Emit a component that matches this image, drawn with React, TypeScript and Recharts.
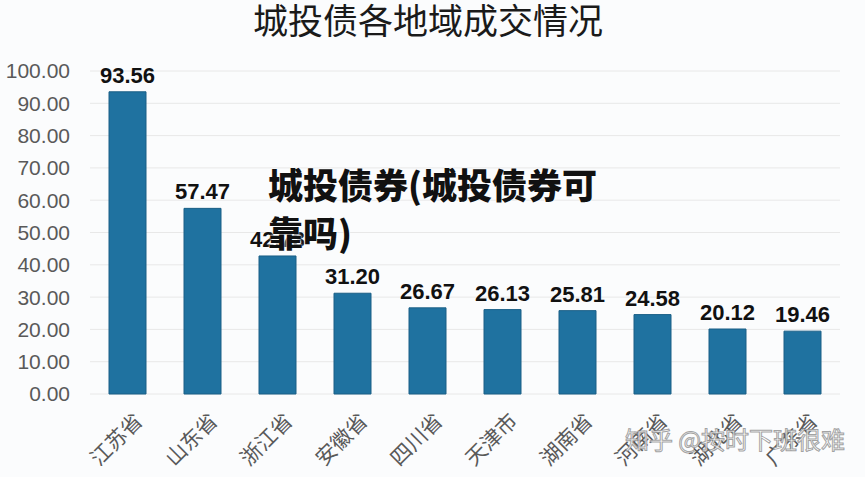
import React from "react";
import { BarChart, Bar, XAxis, YAxis, CartesianGrid, LabelList } from "recharts";

const categories = ["江苏省", "山东省", "浙江省", "安徽省", "四川省", "天津市", "湖南省", "河南省", "湖北省", "广东省"];
const values = [93.56, 57.47, 42.73, 31.2, 26.67, 26.13, 25.81, 24.58, 20.12, 19.46];
const yTicks = [0, 10, 20, 30, 40, 50, 60, 70, 80, 90, 100];

const data = categories.map((name, i) => ({ name, value: values[i] }));

const FONT = "'Liberation Sans', Arial, 'Noto Sans CJK SC', sans-serif";
const CJK = "'Noto Sans CJK SC', sans-serif";

const XTick = (props: any) => {
  const { x, y, payload } = props;
  return (
    <text
      x={x + 10}
      y={y + 14}
      transform={`rotate(-45, ${x + 10}, ${y + 14})`}
      textAnchor="end"
      dominantBaseline="central"
      fontSize={21}
      fill="#595959"
      fontFamily={CJK}
    >
      {payload.value}
    </text>
  );
};

export default function App() {
  return (
    <div style={{ position: "absolute", left: 0, top: 0, width: 865, height: 477, background: "#fbfcfd", overflow: "hidden" }}>
      <svg style={{ position: "absolute", left: 0, top: 0 }} width={865} height={477}>
        <text
          x={428}
          y={34}
          textAnchor="middle"
          fontFamily={CJK}
          fontSize={35}
          fill="#1a1a1a"
        >
          城投债各地域成交情况
        </text>
      </svg>
      <BarChart
        width={865}
        height={477}
        data={data}
        margin={{ top: 71, right: 25, bottom: 0, left: 0 }}
      >
        <CartesianGrid horizontal vertical={false} stroke="#e8e8e8" />
        <XAxis
          dataKey="name"
          axisLine={false}
          tickLine={false}
          tick={<XTick />}
          interval={0}
          height={83}
        />
        <YAxis
          domain={[0, 100]}
          ticks={yTicks}
          interval={0}
          axisLine={false}
          tickLine={false}
          tickSize={0}
          tickMargin={20}
          width={90}
          tickFormatter={(v: number) => v.toFixed(2)}
          tick={{ fontSize: 21, fill: "#595959", fontFamily: FONT }}
        />
        <Bar dataKey="value" fill="#1f72a0" stroke="#1a5f86" strokeWidth={1} barSize={37} isAnimationActive={false}>
          <LabelList
            dataKey="value"
            position="top"
            offset={9}
            formatter={(v: number) => v.toFixed(2)}
            style={{ fontSize: 22, fontWeight: 700, fill: "#111", fontFamily: FONT }}
          />
        </Bar>
      </BarChart>
      <div
        style={{
          position: "absolute",
          left: 268,
          top: 160,
          width: 340,
          fontFamily: CJK,
          fontSize: 35,
          fontWeight: 900,
          color: "#111",
          lineHeight: "48px",
          textShadow: "0 0 2px #fff, 0 0 2px #fff",
        }}
      >
        城投债券(城投债券可靠吗)
      </div>
      <svg style={{ position: "absolute", left: 0, top: 0 }} width={865} height={477}>
        <text
          x={845}
          y={449}
          textAnchor="end"
          fontFamily={CJK}
          fontSize={24}
          fill="#ffffff"
          fillOpacity={0.85}
          stroke="#8a8a8a"
          strokeWidth={1}
          strokeOpacity={0.8}
        >
          知乎 @按时下班很难
        </text>
      </svg>
    </div>
  );
}
